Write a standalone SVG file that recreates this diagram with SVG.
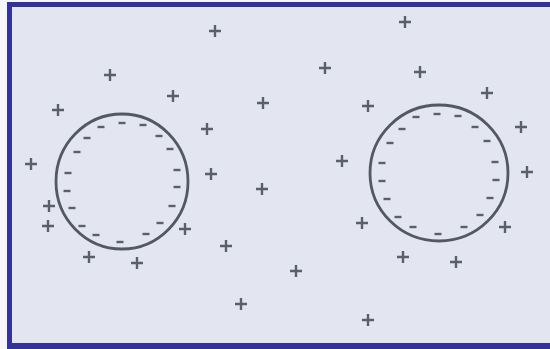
<svg xmlns="http://www.w3.org/2000/svg" xmlns:xlink="http://www.w3.org/1999/xlink" width="550" height="349" viewBox="0 0 550 349">
<style>
.frame{fill:#333399}
.paper{fill:#e3e6f1}
.ring{fill:none;stroke:#545860;stroke-width:2.8}
.sign{stroke:#5a5f6a;stroke-width:2.4;stroke-linecap:butt;fill:none}
</style>
<defs>
<path id="plus" class="sign" d="M-6,0H6M0,-6V6"/>
<path id="minus" class="sign" d="M-3.5,0H3.5"/>
</defs>
<rect width="550" height="349" fill="#f7f7fb"/>
<rect class="frame" x="7" y="2" width="543" height="347"/>
<rect class="paper" x="12" y="7" width="538" height="336"/>
<g id="cell-left">
<ellipse class="ring" cx="122" cy="181.5" rx="66" ry="67.5"/>
<g>
<use href="#minus" x="122" y="123"/><use href="#minus" x="143" y="125"/><use href="#minus" x="159" y="136"/>
<use href="#minus" x="170" y="149"/><use href="#minus" x="177" y="170"/><use href="#minus" x="177" y="187"/>
<use href="#minus" x="172" y="206"/><use href="#minus" x="160" y="223"/><use href="#minus" x="146" y="234"/>
<use href="#minus" x="120" y="242"/><use href="#minus" x="96" y="235"/><use href="#minus" x="82" y="226"/>
<use href="#minus" x="72" y="208"/><use href="#minus" x="67" y="191"/><use href="#minus" x="68" y="173"/>
<use href="#minus" x="77" y="152"/><use href="#minus" x="87" y="138"/><use href="#minus" x="101" y="127"/>
</g>
</g>
<g id="cell-right">
<ellipse class="ring" cx="439" cy="173" rx="69" ry="68"/>
<g>
<use href="#minus" x="437" y="114"/><use href="#minus" x="458" y="116"/><use href="#minus" x="475" y="127"/>
<use href="#minus" x="487" y="141"/><use href="#minus" x="495" y="162"/><use href="#minus" x="496" y="180"/>
<use href="#minus" x="490" y="198"/><use href="#minus" x="480" y="215"/><use href="#minus" x="464" y="227"/>
<use href="#minus" x="438" y="234"/><use href="#minus" x="413" y="227"/><use href="#minus" x="398" y="217"/>
<use href="#minus" x="387" y="199"/><use href="#minus" x="382" y="181"/><use href="#minus" x="382" y="163"/>
<use href="#minus" x="390" y="143"/><use href="#minus" x="402" y="129"/><use href="#minus" x="416" y="117"/>
</g>
</g>
<g id="charges">
<use href="#plus" x="215" y="31"/><use href="#plus" x="405" y="22"/><use href="#plus" x="110" y="75"/>
<use href="#plus" x="325" y="68"/><use href="#plus" x="420" y="72"/><use href="#plus" x="58" y="110"/>
<use href="#plus" x="173" y="96"/><use href="#plus" x="263" y="103"/><use href="#plus" x="368" y="106"/>
<use href="#plus" x="487" y="93"/><use href="#plus" x="207" y="129"/><use href="#plus" x="521" y="127"/>
<use href="#plus" x="31" y="164"/><use href="#plus" x="211" y="174"/><use href="#plus" x="342" y="161"/>
<use href="#plus" x="527" y="172"/><use href="#plus" x="262" y="189"/><use href="#plus" x="49" y="206"/>
<use href="#plus" x="48" y="226"/><use href="#plus" x="185" y="229"/><use href="#plus" x="362" y="223"/>
<use href="#plus" x="505" y="227"/><use href="#plus" x="226" y="246"/><use href="#plus" x="89" y="257"/>
<use href="#plus" x="137" y="263"/><use href="#plus" x="403" y="257"/><use href="#plus" x="456" y="262"/>
<use href="#plus" x="296" y="271"/><use href="#plus" x="241" y="304"/><use href="#plus" x="368" y="320"/>
</g>
</svg>
